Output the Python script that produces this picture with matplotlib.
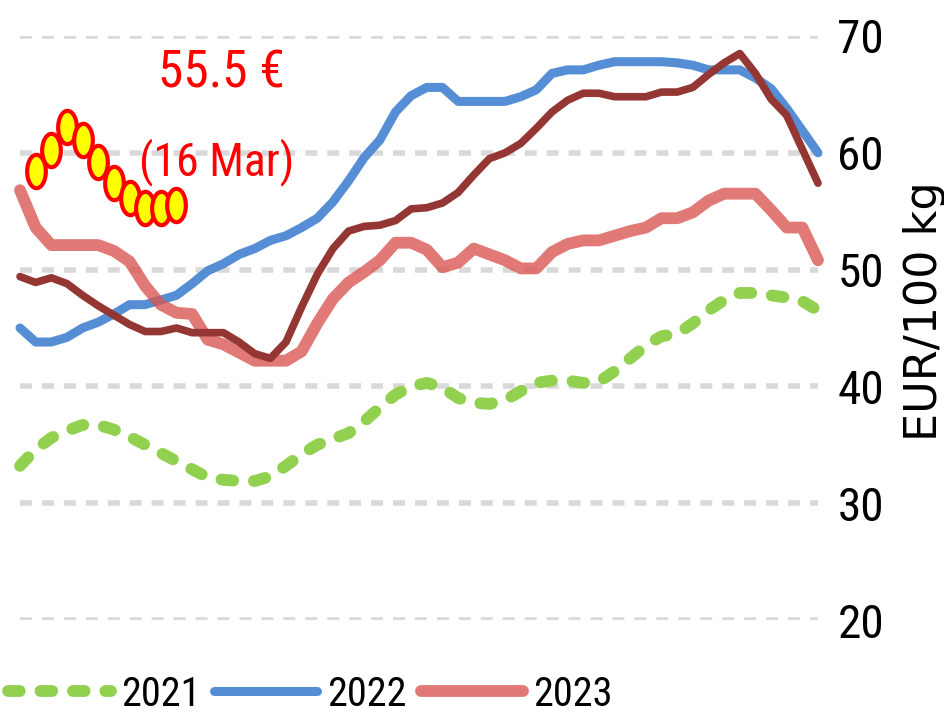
import numpy as np
import matplotlib.pyplot as plt
from matplotlib.path import Path

# weekly prices, EUR/100 kg
weeks = np.arange(52)
y2021 = [33.2, 34.6, 35.6, 36.2, 36.7, 36.7, 36.3, 35.7, 35.0, 34.3,
         33.6, 32.9, 32.2, 32.0, 31.9, 31.9, 32.3, 33.2, 34.2, 35.0,
         35.5, 36.0, 37.0, 38.2, 39.3, 40.0, 40.3, 39.9, 39.0, 38.6,
         38.5, 38.8, 39.6, 40.3, 40.5, 40.5, 40.3, 40.4, 41.3, 42.4,
         43.5, 44.3, 44.5, 45.4, 46.5, 47.4, 48.0, 48.0, 47.8, 47.6,
         47.3, 46.5]
y2022 = [45.0, 43.8, 43.8, 44.2, 45.0, 45.5, 46.2, 47.0, 47.0, 47.4,
         47.8, 48.8, 49.9, 50.5, 51.3, 51.8, 52.5, 52.9, 53.6, 54.4,
         55.8, 57.6, 59.6, 61.1, 63.5, 64.9, 65.6, 65.6, 64.4, 64.4,
         64.4, 64.4, 64.8, 65.4, 66.8, 67.1, 67.1, 67.5, 67.8, 67.8,
         67.8, 67.8, 67.7, 67.5, 67.1, 67.1, 67.1, 66.4, 65.5, 63.8,
         61.9, 60.0]
y2023 = [56.8, 53.6, 52.1, 52.1, 52.1, 52.1, 51.6, 50.7, 48.6, 47.0,
         46.3, 46.2, 44.0, 43.6, 42.9, 42.2, 42.2, 42.2, 43.0, 45.4,
         47.5, 48.9, 49.8, 50.8, 52.3, 52.3, 51.7, 50.2, 50.6, 51.8,
         51.3, 50.8, 50.1, 50.1, 51.5, 52.2, 52.5, 52.5, 52.9, 53.3,
         53.6, 54.4, 54.4, 54.9, 55.9, 56.5, 56.5, 56.5, 55.1, 53.6,
         53.6, 50.8]
y2024 = [49.4, 48.9, 49.3, 48.8, 47.8, 46.9, 46.1, 45.3, 44.7, 44.7,
         45.0, 44.6, 44.6, 44.6, 43.8, 42.8, 42.4, 43.8, 46.8, 49.6,
         51.8, 53.3, 53.7, 53.8, 54.2, 55.2, 55.3, 55.7, 56.6, 58.1,
         59.5, 60.0, 60.8, 62.1, 63.5, 64.5, 65.1, 65.1, 64.8, 64.8,
         64.8, 65.2, 65.2, 65.6, 66.7, 67.7, 68.5, 66.8, 64.6, 63.2,
         60.3, 57.4]
weeks2025 = np.arange(1, 11)
y2025 = [58.4, 60.2, 62.2, 61.1, 59.2, 57.4, 56.1, 55.3, 55.3, 55.5]

# narrow face if one is installed, else Noto Sans
narrow = ['Roboto Condensed', 'Noto Sans Condensed', 'Liberation Sans Narrow',
          'Noto Sans', 'DejaVu Sans']

fig = plt.figure(figsize=(9.45, 7.18), dpi=100)
ax = fig.add_axes([20/945, 98/718, 798/945, 584/718])

# lines
ax.plot(weeks, y2021, color='#92D050', lw=8.5, dashes=(1.0, 1.75),
        dash_capstyle='round', label='2021', clip_on=False, zorder=2)
ax.plot(weeks, y2022, color='#558ED5', lw=6.5, solid_capstyle='round',
        label='2022', clip_on=False, zorder=3)
ax.plot(weeks, y2023, color='#D9534F', alpha=0.78, lw=8.5,
        solid_capstyle='round', label='2023', clip_on=False, zorder=4)
ax.plot(weeks, y2024, color='#943634', lw=5.5, solid_capstyle='round',
        clip_on=False, zorder=5)

# tall ellipse marker for the current year
t = np.linspace(0, 2*np.pi, 60)
ell = Path(np.column_stack([0.56*np.cos(t), np.sin(t)]), closed=True)
ax.plot(weeks2025, y2025, ls='none', marker=ell, ms=24, mfc='#FFFF00',
        mec='#FF0000', mew=3, clip_on=False, zorder=6)

ax.text(12.85, 66.8, '55.5 €', color='#FF0000', fontsize=37,
        family=narrow, fontstretch='condensed', ha='center', va='center')
ax.text(12.55, 59.2, '(16 Mar)', color='#FF0000', fontsize=33,
        family=narrow, fontstretch='condensed', ha='center', va='center')

ax.set_xlim(0, 51)
ax.set_ylim(20, 70)
ax.set_yticks([20, 30, 40, 50, 60, 70])
ax.set_xticks([])
ax.yaxis.tick_right()
ax.tick_params(axis='y', length=0, pad=14, labelsize=34)
for lab in ax.get_yticklabels():
    lab.set_family(narrow)
    lab.set_fontstretch('condensed')
for s in ax.spines.values():
    s.set_visible(False)
ax.grid(axis='y', color='#D9D9D9', lw=4, dashes=(2.15, 1.8))
ax.set_axisbelow(True)

fig.text(937/945, 1 - 311/718, 'EUR/100 kg', rotation=90, fontsize=32,
         ha='center', va='baseline', rotation_mode='anchor')

leg = fig.legend(loc='center left', bbox_to_anchor=(8/945, 24/718),
                 ncol=3, frameon=False, borderpad=0, borderaxespad=0,
                 handlelength=2.55, handletextpad=0.25, columnspacing=0.35,
                 prop={'family': narrow, 'stretch': 'condensed', 'size': 29})

fig.savefig('out.png', dpi=100)
